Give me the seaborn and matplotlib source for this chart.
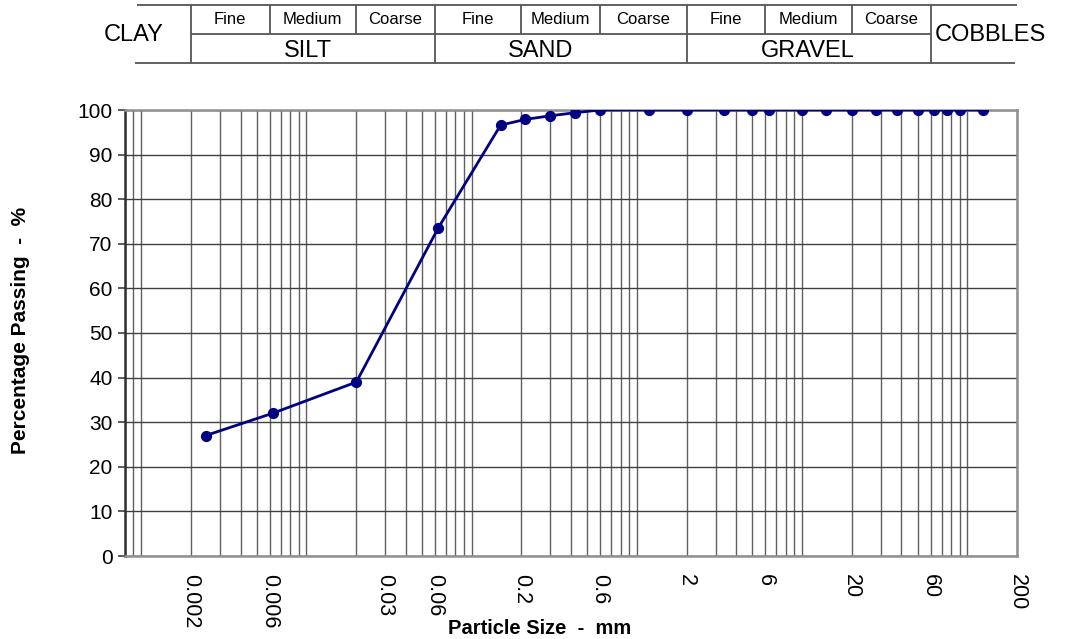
import matplotlib
matplotlib.use("Agg")
import matplotlib.pyplot as plt
import matplotlib.ticker as mticker
import numpy as np
import pandas as pd
import seaborn as sns

# ── Data ───────────────────────────────────────────────────────────────────
size_mm = [0.00246, 0.00626, 0.0201, 0.063, 0.15, 0.212, 0.3, 0.425, 0.6,
           1.18, 2, 3.35, 5, 6.3, 10, 14, 20, 28, 37.5, 50, 63, 75, 90, 125]
passing = [27, 32, 39, 73.6, 96.6, 97.9, 98.7, 99.4, 100,
           100, 100, 100, 100, 100, 100, 100, 100, 100, 100, 100, 100, 100, 100, 100]

tick_vals = [0.002, 0.006, 0.03, 0.06, 0.2, 0.6, 2, 6, 20, 60, 200]
tick_labels = ["0.002", "0.006", "0.03", "0.06", "0.2", "0.6", "2", "6", "20", "60", "200"]

# soil classification header
main_bounds = [0.002, 0.06, 2, 60]
sub_bounds = [0.006, 0.02, 0.2, 0.6, 6, 20]
sub_cells = [(0.002, 0.006), (0.006, 0.02), (0.02, 0.06),
             (0.06, 0.2), (0.2, 0.6), (0.6, 2),
             (2, 6), (6, 20), (20, 60)]
sub_names = ["Fine", "Medium", "Coarse"] * 3
main_names = ["SILT", "SAND", "GRAVEL"]
main_pos = [0.0102, 0.26, 10.8]

df = pd.DataFrame({"size": size_mm, "passing": passing})

# ── Style ──────────────────────────────────────────────────────────────────
sns.set_theme(style="white")
plt.rcParams["font.family"] = ["Liberation Sans", "DejaVu Sans"]
plt.rcParams["text.color"] = "black"
plt.rcParams["axes.labelcolor"] = "black"

NAVY = "#000080"
GRID = "#606060"
XMIN, XMAX = 0.0008, 200

fig = plt.figure(figsize=(10.83, 6.39), dpi=100)
ax = fig.add_axes([125 / 1083, 1 - 556 / 639, 892 / 1083, 446 / 639])
ax.set_xscale("log")

sns.lineplot(data=df, x="size", y="passing", ax=ax, color=NAVY, linewidth=2,
             marker="o", markersize=7.3, markeredgecolor=NAVY, estimator=None,
             sort=False, zorder=5)

ax.set_xlim(XMIN, XMAX)
ax.set_ylim(0, 100)
ax.set_yticks(np.arange(0, 101, 10))

ax.xaxis.set_major_locator(mticker.FixedLocator(tick_vals))
ax.xaxis.set_major_formatter(mticker.FixedFormatter(tick_labels))
ax.xaxis.set_minor_locator(mticker.LogLocator(base=10, subs=np.arange(1, 10), numticks=30))
ax.xaxis.set_minor_formatter(mticker.NullFormatter())

ax.grid(True, axis="x", which="both", color=GRID, linewidth=1.0)
ax.grid(True, axis="y", which="major", color="#404040", linewidth=1.0)

ax.tick_params(axis="x", which="both", length=0, pad=13, labelsize=15.5, labelcolor="black")
for lbl in ax.get_xticklabels():
    lbl.set_rotation(-90)
    lbl.set_va("top")
    lbl.set_ha("center")
ax.tick_params(axis="y", which="major", length=5, width=1.2, color="#404040",
               labelsize=15, labelcolor="black", pad=4, left=True)

for side in ["top", "right", "bottom"]:
    ax.spines[side].set_color("#909090")
    ax.spines[side].set_linewidth(1.8)
ax.spines["left"].set_color("#303030")
ax.spines["left"].set_linewidth(1.8)

ax.set_xlabel("Particle Size  -  mm", fontsize=14.5, fontweight="bold", va="center")
ax.xaxis.set_label_coords((540 - 125) / 892, (556 - 628) / 446)
ax.set_ylabel("Percentage Passing  -  %", fontsize=15, fontweight="bold", va="center")
ax.yaxis.set_label_coords((21 - 125) / 892, 0.505)

# ── Header table ───────────────────────────────────────────────────────────
hax = fig.add_axes([125 / 1083, 1 - 63 / 639, 892 / 1083, 58 / 639])
hax.set_xscale("log")
hax.set_xlim(XMIN, XMAX)
hax.set_ylim(0, 2)
hax.axis("off")

lkw = dict(color="#555555", linewidth=1.3, clip_on=False, solid_capstyle="butt")
hax.plot([0.00095, 200], [2, 2], **lkw)
hax.plot([0.00092, 195], [0, 0], **lkw)
hax.plot([main_bounds[0], main_bounds[-1]], [1, 1], **lkw)
for b in main_bounds:
    hax.plot([b, b], [0, 2], **lkw)
for b in sub_bounds:
    hax.plot([b, b], [1, 2], **lkw)

for (lo, hi), name in zip(sub_cells, sub_names):
    hax.text(np.sqrt(lo * hi), 1.5, name, ha="center", va="center", fontsize=12)
for xpos, name in zip(main_pos, main_names):
    hax.text(xpos, 0.42, name, ha="center", va="center", fontsize=17)
hax.text(0.000905, 0.97, "CLAY", ha="center", va="center", fontsize=17)
hax.text(63.5, 0.97, "COBBLES", ha="left", va="center", fontsize=17)

fig.savefig("out.png", dpi=100)
